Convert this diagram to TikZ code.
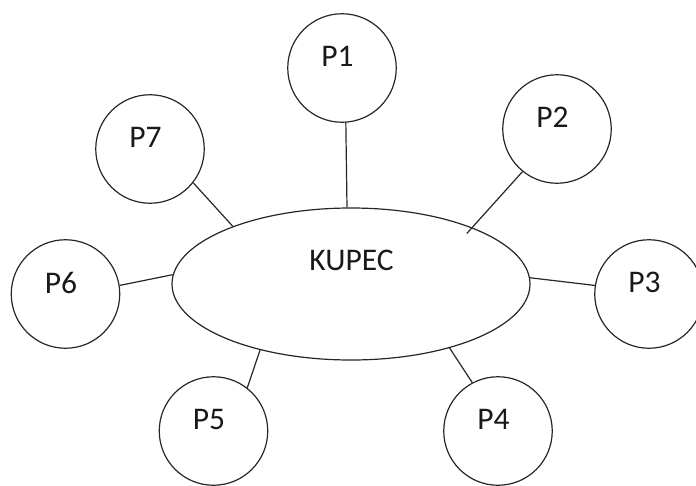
\documentclass[tikz,border=0pt]{standalone}
\usepackage{fontspec}
\setmainfont{Carlito}
\usetikzlibrary{shapes.geometric,calc}
\begin{document}
\begin{tikzpicture}[x=1pt,y=-1pt,
  pcirc/.style={draw=black!85,line width=1.2pt,circle,minimum size=108.5pt,inner sep=0pt},
  kell/.style={draw=black!85,line width=1.2pt,ellipse,minimum width=358pt,minimum height=152pt,inner sep=0pt},
  ptext/.style={font=\fontsize{31.5}{36}\selectfont,inner sep=0pt,text=black!90},
  conn/.style={draw=black!85,line width=1.2pt}]
\useasboundingbox (0,0) rectangle (696,485);
\node[kell] (k) at (351,284) {};
\node[ptext] (kt) at (351.5,260) {KUPEC};
\node[pcirc] (p1) at (342,68) {};
\node[pcirc] (p2) at (557,129) {};
\node[pcirc] (p3) at (649,294) {};
\node[pcirc] (p4) at (498,431) {};
\node[pcirc] (p5) at (213.5,431) {};
\node[pcirc] (p6) at (65.5,294) {};
\node[pcirc] (p7) at (150,149) {};
\node[ptext] (t1) at ($(p1)+(-4.5,-11.5)$) {P1};
\node[ptext] (t2) at ($(p2)+(-4.5,-11.5)$) {P2};
\node[ptext] (t3) at ($(p3)+(-4.5,-11.5)$) {P3};
\node[ptext] (t4) at ($(p4)+(-4.5,-11.5)$) {P4};
\node[ptext] (t5) at ($(p5)+(-4.5,-11.5)$) {P5};
\node[ptext] (t6) at ($(p6)+(-4.5,-11.5)$) {P6};
\node[ptext] (t7) at ($(p7)+(-4.5,-11.5)$) {P7};
\draw[conn] (p1.-86) -- (k.93.8);
\draw[conn,shorten >=-8pt] (p2.231.3) -- (k.25.6);
\draw[conn] (p3.171.6) -- (k.2.6);
\draw[conn] (p4.118.4) -- (k.-33.1);
\draw[conn] (p5.52) -- (k.216.9);
\draw[conn] (p6.9.4) -- (k.177.4);
\draw[conn] (p7.-38) -- (k.154.2);
\end{tikzpicture}
\end{document}
